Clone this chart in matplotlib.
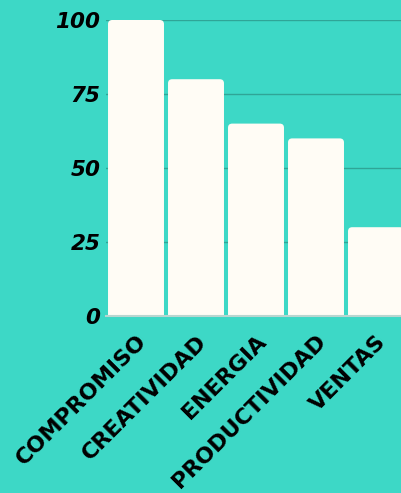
import numpy as np
import matplotlib.pyplot as plt
from matplotlib.patches import FancyBboxPatch

categories = ['COMPROMISO', 'CREATIVIDAD', 'ENERGIA', 'PRODUCTIVIDAD', 'VENTAS']
values = [100, 80, 65, 60, 30]
yticks = [0, 25, 50, 75, 100]

bg = '#3dd8c6'
bar_color = '#fffcf5'
grid_color = '#2fa597'

fig = plt.figure(figsize=(4.01, 4.93), dpi=100, facecolor=bg)
ax = fig.add_axes([106 / 401, 1 - 316 / 493, 300 / 401, 296 / 493])
ax.set_facecolor(bg)

x = np.arange(len(categories))
bars = ax.bar(x, values, width=0.933, color=bar_color, zorder=2)

# swap plain rectangles for ones with rounded top corners
ax.set_xlim(-0.5, len(categories) - 0.5)
ax.set_ylim(0, 100)
for b in bars:
    b.set_visible(False)
    rp = FancyBboxPatch((b.get_x(), -5), b.get_width(), b.get_height() + 5,
                        boxstyle='round,pad=0,rounding_size=0.07',
                        mutation_aspect=20, facecolor=bar_color,
                        edgecolor='none', zorder=2, clip_on=True)
    ax.add_patch(rp)

ax.set_yticks(yticks)
ax.set_yticklabels([str(t) for t in yticks], fontsize=15.5, fontweight='heavy',
                   fontstyle='italic')
ax.set_xticks(x)
ax.set_xticklabels(categories, rotation=45, ha='right', rotation_mode='anchor',
                   fontsize=16, fontweight='heavy')
ax.tick_params(axis='both', length=0)
ax.tick_params(axis='x', pad=11)
ax.tick_params(axis='y', pad=4)

ax.grid(axis='y', color=grid_color, linewidth=1)
ax.set_axisbelow(True)
for s in ['top', 'right', 'left']:
    ax.spines[s].set_visible(False)
ax.spines['bottom'].set_color('#b9d6d0')
ax.spines['bottom'].set_linewidth(1.5)
ax.spines['bottom'].set_zorder(3)

plt.savefig('out.png', dpi=100, facecolor=bg)
